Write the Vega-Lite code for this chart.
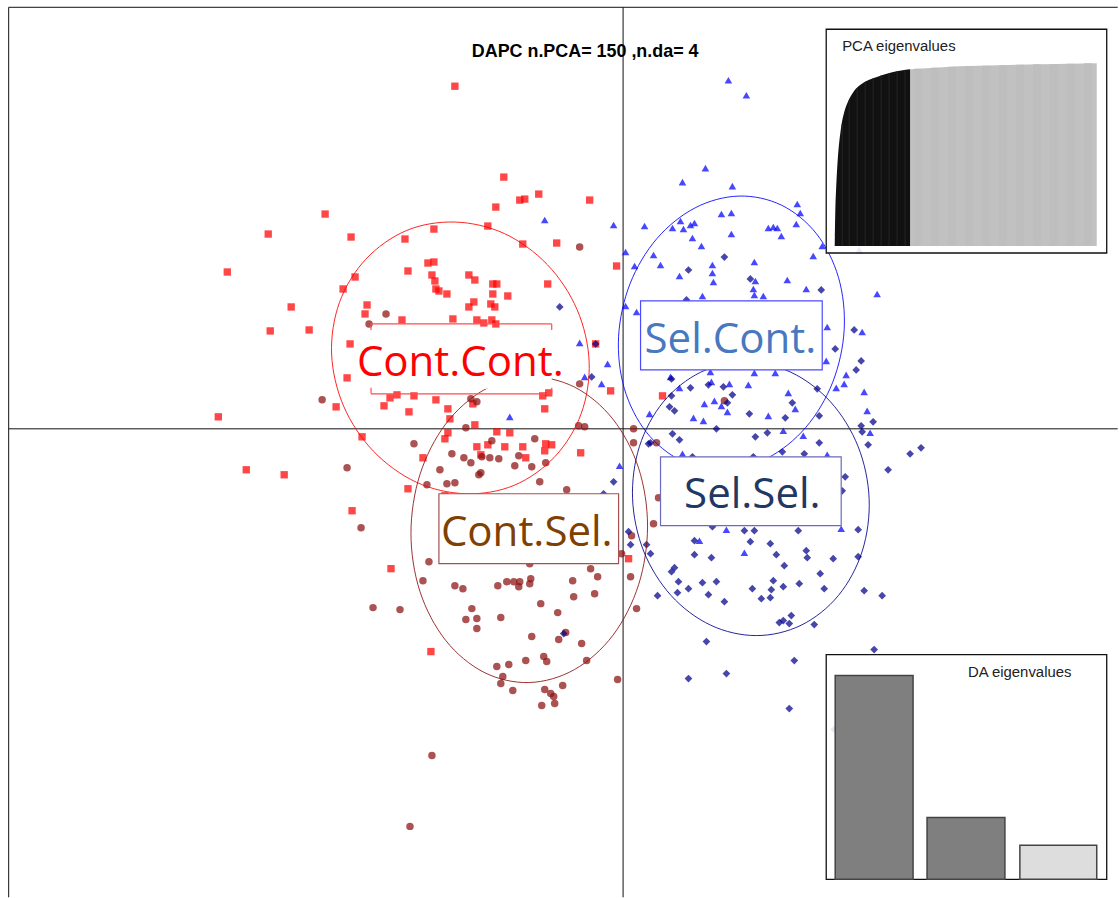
{"$schema":"https://vega.github.io/schema/vega-lite/v6.json","autosize":{"type":"fit","contains":"padding"},"width":1119,"height":898,"padding":0,"background":"white","view":{"stroke":null},
"datasets":{
"pts":[
{"g":"CC","x":455,"y":86},{"g":"CC","x":504,"y":177},{"g":"CC","x":520,"y":200},{"g":"CC","x":525,"y":199},{"g":"CC","x":539,"y":194},{"g":"CC","x":590,"y":200},{"g":"CC","x":496,"y":207},{"g":"CC","x":325,"y":214},{"g":"CC","x":268,"y":234},{"g":"CC","x":351,"y":237},{"g":"CC","x":434,"y":229},{"g":"CC","x":405,"y":239},{"g":"CC","x":488,"y":226},{"g":"CC","x":523,"y":244},{"g":"CC","x":557,"y":243},{"g":"CC","x":617,"y":266},{"g":"CC","x":227,"y":272},{"g":"CC","x":408,"y":271},{"g":"CC","x":428,"y":263},{"g":"CC","x":434,"y":262},{"g":"CC","x":432,"y":275},{"g":"CC","x":435,"y":281},{"g":"CC","x":436,"y":289},{"g":"CC","x":439,"y":291},{"g":"CC","x":447,"y":294},{"g":"CC","x":469,"y":275},{"g":"CC","x":475,"y":280},{"g":"CC","x":493,"y":284},{"g":"CC","x":497,"y":284},{"g":"CC","x":493,"y":294},{"g":"CC","x":508,"y":296},{"g":"CC","x":548,"y":284},{"g":"CC","x":355,"y":277},{"g":"CC","x":343,"y":289},{"g":"CC","x":367,"y":305},{"g":"CC","x":365,"y":314},{"g":"CC","x":291,"y":307},{"g":"CC","x":270,"y":331},{"g":"CC","x":309,"y":330},{"g":"CC","x":474,"y":302},{"g":"CC","x":469,"y":307},{"g":"CC","x":491,"y":304},{"g":"CC","x":495,"y":307},{"g":"CC","x":402,"y":320},{"g":"CC","x":453,"y":319},{"g":"CC","x":477,"y":320},{"g":"CC","x":492,"y":320},{"g":"CC","x":484,"y":323},{"g":"CC","x":496,"y":324},{"g":"CC","x":350,"y":344},{"g":"CC","x":347,"y":378},{"g":"CC","x":596,"y":344},{"g":"CC","x":611,"y":391},{"g":"CC","x":390,"y":398},{"g":"CC","x":397,"y":395},{"g":"CC","x":414,"y":396},{"g":"CC","x":436,"y":400},{"g":"CC","x":543,"y":396},{"g":"CC","x":549,"y":393},{"g":"CC","x":384,"y":406},{"g":"CC","x":336,"y":407},{"g":"CC","x":409,"y":412},{"g":"CC","x":448,"y":409},{"g":"CC","x":473,"y":404},{"g":"CC","x":545,"y":409},{"g":"CC","x":450,"y":419},{"g":"CC","x":475,"y":425},{"g":"CC","x":218,"y":417},{"g":"CC","x":362,"y":437},{"g":"CC","x":246,"y":470},{"g":"CC","x":284,"y":475},{"g":"CC","x":448,"y":433},{"g":"CC","x":445,"y":439},{"g":"CC","x":497,"y":432},{"g":"CC","x":510,"y":433},{"g":"CC","x":477,"y":447},{"g":"CC","x":488,"y":445},{"g":"CC","x":505,"y":447},{"g":"CC","x":523,"y":447},{"g":"CC","x":481,"y":455},{"g":"CC","x":526,"y":458},{"g":"CC","x":546,"y":444},{"g":"CC","x":552,"y":445},{"g":"CC","x":545,"y":451},{"g":"CC","x":423,"y":458},{"g":"CC","x":581,"y":453},{"g":"CC","x":408,"y":489},{"g":"CC","x":445,"y":496},{"g":"CC","x":352,"y":511},{"g":"CC","x":391,"y":569},{"g":"CC","x":431,"y":652},{"g":"CC","x":629,"y":559},{"g":"CC","x":663,"y":396},
{"g":"CS","x":580,"y":247},{"g":"CS","x":386,"y":314},{"g":"CS","x":369,"y":324},{"g":"CS","x":322,"y":400},{"g":"CS","x":580,"y":384},{"g":"CS","x":471,"y":399},{"g":"CS","x":477,"y":402},{"g":"CS","x":466,"y":428},{"g":"CS","x":579,"y":426},{"g":"CS","x":585,"y":427},{"g":"CS","x":414,"y":444},{"g":"CS","x":347,"y":468},{"g":"CS","x":452,"y":454},{"g":"CS","x":464,"y":458},{"g":"CS","x":471,"y":463},{"g":"CS","x":482,"y":457},{"g":"CS","x":490,"y":458},{"g":"CS","x":499,"y":459},{"g":"CS","x":492,"y":441},{"g":"CS","x":519,"y":456},{"g":"CS","x":515,"y":466},{"g":"CS","x":532,"y":467},{"g":"CS","x":546,"y":463},{"g":"CS","x":535,"y":439},{"g":"CS","x":440,"y":470},{"g":"CS","x":479,"y":475},{"g":"CS","x":481,"y":473},{"g":"CS","x":427,"y":485},{"g":"CS","x":447,"y":484},{"g":"CS","x":455,"y":483},{"g":"CS","x":540,"y":482},{"g":"CS","x":567,"y":490},{"g":"CS","x":634,"y":429},{"g":"CS","x":634,"y":443},{"g":"CS","x":657,"y":443},{"g":"CS","x":659,"y":498},{"g":"CS","x":654,"y":524},{"g":"CS","x":725,"y":401},{"g":"CS","x":361,"y":528},{"g":"CS","x":632,"y":536},{"g":"CS","x":622,"y":554},{"g":"CS","x":429,"y":562},{"g":"CS","x":530,"y":564},{"g":"CS","x":591,"y":569},{"g":"CS","x":598,"y":577},{"g":"CS","x":631,"y":577},{"g":"CS","x":423,"y":581},{"g":"CS","x":455,"y":586},{"g":"CS","x":463,"y":589},{"g":"CS","x":498,"y":586},{"g":"CS","x":507,"y":582},{"g":"CS","x":514,"y":582},{"g":"CS","x":520,"y":582},{"g":"CS","x":519,"y":587},{"g":"CS","x":530,"y":584},{"g":"CS","x":531,"y":579},{"g":"CS","x":573,"y":581},{"g":"CS","x":574,"y":597},{"g":"CS","x":595,"y":594},{"g":"CS","x":541,"y":604},{"g":"CS","x":558,"y":613},{"g":"CS","x":637,"y":609},{"g":"CS","x":373,"y":608},{"g":"CS","x":400,"y":610},{"g":"CS","x":472,"y":609},{"g":"CS","x":466,"y":620},{"g":"CS","x":477,"y":619},{"g":"CS","x":477,"y":629},{"g":"CS","x":501,"y":618},{"g":"CS","x":532,"y":637},{"g":"CS","x":559,"y":640},{"g":"CS","x":566,"y":633},{"g":"CS","x":582,"y":644},{"g":"CS","x":544,"y":657},{"g":"CS","x":547,"y":662},{"g":"CS","x":526,"y":661},{"g":"CS","x":509,"y":665},{"g":"CS","x":497,"y":667},{"g":"CS","x":503,"y":677},{"g":"CS","x":501,"y":684},{"g":"CS","x":587,"y":661},{"g":"CS","x":618,"y":680},{"g":"CS","x":563,"y":686},{"g":"CS","x":545,"y":690},{"g":"CS","x":513,"y":691},{"g":"CS","x":551,"y":694},{"g":"CS","x":554,"y":697},{"g":"CS","x":555,"y":704},{"g":"CS","x":542,"y":706},{"g":"CS","x":432,"y":756},{"g":"CS","x":410,"y":827},
{"g":"SC","x":729,"y":80},{"g":"SC","x":747,"y":95},{"g":"SC","x":706,"y":168},{"g":"SC","x":683,"y":182},{"g":"SC","x":733,"y":186},{"g":"SC","x":798,"y":204},{"g":"SC","x":801,"y":213},{"g":"SC","x":797,"y":224},{"g":"SC","x":722,"y":214},{"g":"SC","x":732,"y":213},{"g":"SC","x":681,"y":221},{"g":"SC","x":695,"y":223},{"g":"SC","x":691,"y":225},{"g":"SC","x":645,"y":226},{"g":"SC","x":673,"y":228},{"g":"SC","x":684,"y":229},{"g":"SC","x":732,"y":234},{"g":"SC","x":769,"y":228},{"g":"SC","x":774,"y":227},{"g":"SC","x":778,"y":228},{"g":"SC","x":782,"y":236},{"g":"SC","x":693,"y":238},{"g":"SC","x":702,"y":246},{"g":"SC","x":823,"y":246},{"g":"SC","x":626,"y":252},{"g":"SC","x":654,"y":255},{"g":"SC","x":814,"y":256},{"g":"SC","x":635,"y":266},{"g":"SC","x":661,"y":265},{"g":"SC","x":713,"y":265},{"g":"SC","x":713,"y":273},{"g":"SC","x":755,"y":262},{"g":"SC","x":680,"y":276},{"g":"SC","x":714,"y":282},{"g":"SC","x":756,"y":281},{"g":"SC","x":788,"y":280},{"g":"SC","x":807,"y":289},{"g":"SC","x":754,"y":289},{"g":"SC","x":755,"y":295},{"g":"SC","x":703,"y":296},{"g":"SC","x":764,"y":296},{"g":"SC","x":878,"y":294},{"g":"SC","x":626,"y":306},{"g":"SC","x":637,"y":312},{"g":"SC","x":828,"y":327},{"g":"SC","x":863,"y":332},{"g":"SC","x":827,"y":361},{"g":"SC","x":671,"y":377},{"g":"SC","x":711,"y":372},{"g":"SC","x":755,"y":373},{"g":"SC","x":776,"y":373},{"g":"SC","x":847,"y":375},{"g":"SC","x":845,"y":384},{"g":"SC","x":837,"y":388},{"g":"SC","x":865,"y":392},{"g":"SC","x":712,"y":382},{"g":"SC","x":730,"y":384},{"g":"SC","x":749,"y":385},{"g":"SC","x":680,"y":388},{"g":"SC","x":789,"y":393},{"g":"SC","x":715,"y":401},{"g":"SC","x":705,"y":404},{"g":"SC","x":722,"y":406},{"g":"SC","x":796,"y":409},{"g":"SC","x":868,"y":411},{"g":"SC","x":728,"y":412},{"g":"SC","x":650,"y":414},{"g":"SC","x":694,"y":418},{"g":"SC","x":704,"y":421},{"g":"SC","x":769,"y":416},{"g":"SC","x":545,"y":220},{"g":"SC","x":614,"y":225},{"g":"SC","x":580,"y":343},{"g":"SC","x":608,"y":364},{"g":"SC","x":585,"y":377},{"g":"SC","x":602,"y":384},{"g":"SC","x":510,"y":417},{"g":"SC","x":620,"y":466},{"g":"SC","x":784,"y":431},{"g":"SC","x":804,"y":436},{"g":"SC","x":871,"y":433},{"g":"SC","x":683,"y":454},{"g":"SC","x":828,"y":455},{"g":"SC","x":727,"y":530},{"g":"SC","x":842,"y":529},{"g":"SC","x":700,"y":541},{"g":"SC","x":745,"y":553},{"g":"SC","x":894,"y":188},{"g":"SC","x":838,"y":232},{"g":"SC","x":877,"y":232},{"g":"SC","x":860,"y":250},
{"g":"SS","x":725,"y":257},{"g":"SS","x":689,"y":270},{"g":"SS","x":751,"y":279},{"g":"SS","x":822,"y":290},{"g":"SS","x":687,"y":300},{"g":"SS","x":855,"y":330},{"g":"SS","x":836,"y":349},{"g":"SS","x":862,"y":361},{"g":"SS","x":857,"y":370},{"g":"SS","x":672,"y":379},{"g":"SS","x":691,"y":388},{"g":"SS","x":709,"y":385},{"g":"SS","x":724,"y":387},{"g":"SS","x":733,"y":395},{"g":"SS","x":672,"y":396},{"g":"SS","x":818,"y":389},{"g":"SS","x":793,"y":403},{"g":"SS","x":670,"y":407},{"g":"SS","x":675,"y":411},{"g":"SS","x":728,"y":403},{"g":"SS","x":750,"y":414},{"g":"SS","x":786,"y":418},{"g":"SS","x":820,"y":416},{"g":"SS","x":874,"y":422},{"g":"SS","x":862,"y":426},{"g":"SS","x":560,"y":307},{"g":"SS","x":596,"y":344},{"g":"SS","x":592,"y":377},{"g":"SS","x":614,"y":482},{"g":"SS","x":604,"y":494},{"g":"SS","x":649,"y":444},{"g":"SS","x":564,"y":634},{"g":"SS","x":717,"y":429},{"g":"SS","x":673,"y":434},{"g":"SS","x":680,"y":440},{"g":"SS","x":651,"y":443},{"g":"SS","x":756,"y":437},{"g":"SS","x":768,"y":433},{"g":"SS","x":820,"y":443},{"g":"SS","x":863,"y":432},{"g":"SS","x":869,"y":445},{"g":"SS","x":922,"y":448},{"g":"SS","x":911,"y":454},{"g":"SS","x":889,"y":470},{"g":"SS","x":783,"y":452},{"g":"SS","x":805,"y":454},{"g":"SS","x":693,"y":457},{"g":"SS","x":754,"y":457},{"g":"SS","x":846,"y":477},{"g":"SS","x":843,"y":491},{"g":"SS","x":713,"y":527},{"g":"SS","x":745,"y":531},{"g":"SS","x":755,"y":531},{"g":"SS","x":799,"y":531},{"g":"SS","x":859,"y":530},{"g":"SS","x":695,"y":541},{"g":"SS","x":751,"y":542},{"g":"SS","x":771,"y":544},{"g":"SS","x":647,"y":545},{"g":"SS","x":629,"y":532},{"g":"SS","x":631,"y":545},{"g":"SS","x":807,"y":551},{"g":"SS","x":777,"y":555},{"g":"SS","x":651,"y":554},{"g":"SS","x":695,"y":555},{"g":"SS","x":712,"y":558},{"g":"SS","x":808,"y":558},{"g":"SS","x":834,"y":559},{"g":"SS","x":859,"y":557},{"g":"SS","x":785,"y":566},{"g":"SS","x":675,"y":568},{"g":"SS","x":672,"y":572},{"g":"SS","x":821,"y":574},{"g":"SS","x":679,"y":582},{"g":"SS","x":703,"y":583},{"g":"SS","x":717,"y":582},{"g":"SS","x":774,"y":581},{"g":"SS","x":800,"y":584},{"g":"SS","x":784,"y":587},{"g":"SS","x":753,"y":589},{"g":"SS","x":772,"y":590},{"g":"SS","x":825,"y":589},{"g":"SS","x":865,"y":591},{"g":"SS","x":689,"y":589},{"g":"SS","x":678,"y":593},{"g":"SS","x":709,"y":595},{"g":"SS","x":658,"y":596},{"g":"SS","x":883,"y":596},{"g":"SS","x":762,"y":599},{"g":"SS","x":771,"y":598},{"g":"SS","x":725,"y":602},{"g":"SS","x":792,"y":616},{"g":"SS","x":780,"y":623},{"g":"SS","x":784,"y":621},{"g":"SS","x":790,"y":624},{"g":"SS","x":815,"y":625},{"g":"SS","x":707,"y":642},{"g":"SS","x":875,"y":650},{"g":"SS","x":795,"y":661},{"g":"SS","x":727,"y":674},{"g":"SS","x":689,"y":679},{"g":"SS","x":790,"y":709},{"g":"SS","x":835,"y":730}],
"ell":[
{"g":"CC","i":1,"x":589.5,"y":361.9},{"g":"CC","i":2,"x":581.6,"y":413.6},{"g":"CC","i":3,"x":555.3,"y":456.7},{"g":"CC","i":4,"x":514.5,"y":485.5},{"g":"CC","i":5,"x":466,"y":494},{"g":"CC","i":6,"x":416.5,"y":482.5},{"g":"CC","i":7,"x":373.3,"y":451.3},{"g":"CC","i":8,"x":343.6,"y":406.4},{"g":"CC","i":9,"x":331.5,"y":354.1},{"g":"CC","i":10,"x":339.4,"y":302.4},{"g":"CC","i":11,"x":365.7,"y":259.3},{"g":"CC","i":12,"x":406.5,"y":230.5},{"g":"CC","i":13,"x":455,"y":222},{"g":"CC","i":14,"x":504.5,"y":233.5},{"g":"CC","i":15,"x":547.7,"y":264.7},{"g":"CC","i":16,"x":577.4,"y":309.6},
{"g":"CS","i":1,"x":648,"y":526.4},{"g":"CS","i":2,"x":639,"y":585.2},{"g":"CS","i":3,"x":613.3,"y":635.7},{"g":"CS","i":4,"x":574.8,"y":670},{"g":"CS","i":5,"x":529.5,"y":683},{"g":"CS","i":6,"x":484.2,"y":672.8},{"g":"CS","i":7,"x":445.7,"y":640.7},{"g":"CS","i":8,"x":420,"y":591.8},{"g":"CS","i":9,"x":411,"y":533.6},{"g":"CS","i":10,"x":420,"y":474.8},{"g":"CS","i":11,"x":445.7,"y":424.3},{"g":"CS","i":12,"x":484.2,"y":390},{"g":"CS","i":13,"x":529.5,"y":377},{"g":"CS","i":14,"x":574.8,"y":387.2},{"g":"CS","i":15,"x":613.3,"y":419.3},{"g":"CS","i":16,"x":639,"y":468.2},
{"g":"SC","i":1,"x":845,"y":329.6},{"g":"SC","i":2,"x":833.5,"y":382.3},{"g":"SC","i":3,"x":806.6,"y":427.5},{"g":"SC","i":4,"x":768.2,"y":458.3},{"g":"SC","i":5,"x":724.5,"y":470},{"g":"SC","i":6,"x":681.8,"y":460.9},{"g":"SC","i":7,"x":646.8,"y":432.3},{"g":"SC","i":8,"x":624.7,"y":388.5},{"g":"SC","i":9,"x":619,"y":336.4},{"g":"SC","i":10,"x":630.5,"y":283.7},{"g":"SC","i":11,"x":657.4,"y":238.5},{"g":"SC","i":12,"x":695.8,"y":207.7},{"g":"SC","i":13,"x":739.5,"y":196},{"g":"SC","i":14,"x":782.2,"y":205.1},{"g":"SC","i":15,"x":817.2,"y":233.7},{"g":"SC","i":16,"x":839.3,"y":277.5},
{"g":"SS","i":1,"x":870,"y":499},{"g":"SS","i":2,"x":863.1,"y":551.4},{"g":"SS","i":3,"x":839.2,"y":595.9},{"g":"SS","i":4,"x":801.9,"y":625.6},{"g":"SS","i":5,"x":757,"y":636},{"g":"SS","i":6,"x":711.3,"y":625.6},{"g":"SS","i":7,"x":671.6,"y":595.9},{"g":"SS","i":8,"x":644.1,"y":551.4},{"g":"SS","i":9,"x":633,"y":499},{"g":"SS","i":10,"x":639.9,"y":446.6},{"g":"SS","i":11,"x":663.8,"y":402.1},{"g":"SS","i":12,"x":701.1,"y":372.4},{"g":"SS","i":13,"x":746,"y":362},{"g":"SS","i":14,"x":791.7,"y":372.4},{"g":"SS","i":15,"x":831.4,"y":402.1},{"g":"SS","i":16,"x":858.9,"y":446.6}]
},
"encoding":{},
"layer":[
{"data":{"values":[{"x":8,"x2":1119,"y":7,"y2":7},{"x":8,"x2":8,"y":7,"y2":898},{"x":623.5,"x2":623.5,"y":7,"y2":898},{"x":8,"x2":1119,"y":429,"y2":429}]},"mark":{"type":"rule","color":"#111","strokeWidth":1},"encoding":{"x":{"field":"x","type":"quantitative","scale":{"domain":[-0.7,1118.3],"nice":false,"zero":false},"axis":null},"x2":{"field":"x2"},"y":{"field":"y","type":"quantitative","scale":{"domain":[897.7,-0.3],"nice":false,"zero":false},"axis":null},"y2":{"field":"y2"}}},
{"data":{"name":"pts"},"mark":{"type":"point","filled":true,"opacity":0.72,"stroke":null},"encoding":{"x":{"field":"x","type":"quantitative"},"y":{"field":"y","type":"quantitative"},"color":{"field":"g","type":"nominal","legend":null,"scale":{"domain":["CC","CS","SC","SS"],"range":["#ff0000","#8b1010","#0000ff","#00008b"]}},"shape":{"field":"g","type":"nominal","legend":null,"scale":{"domain":["CC","CS","SC","SS"],"range":["square","circle","triangle-up","diamond"]}},"size":{"field":"g","type":"nominal","legend":null,"scale":{"domain":["CC","CS","SC","SS"],"range":[54,60,110,62]}}}},
{"data":{"name":"ell"},"mark":{"type":"line","interpolate":"cardinal-closed","strokeWidth":1,"opacity":0.85},"encoding":{"x":{"field":"x","type":"quantitative"},"y":{"field":"y","type":"quantitative"},"color":{"field":"g","type":"nominal","legend":null},"order":{"field":"i","type":"quantitative"}}},
{"data":{"values":[{"x":371,"x2":552,"y":329,"y2":389}]},"mark":{"type":"rect","fill":"white"},"encoding":{"x":{"field":"x","type":"quantitative"},"x2":{"field":"x2"},"y":{"field":"y","type":"quantitative"},"y2":{"field":"y2"}}},
{"data":{"values":[{"x":371,"x2":552,"y":324,"y2":324},{"x":371,"x2":552,"y":394,"y2":394},{"x":371,"x2":371,"y":324,"y2":330},{"x":552,"x2":552,"y":324,"y2":330},{"x":371,"x2":371,"y":388,"y2":394},{"x":552,"x2":552,"y":388,"y2":394}]},"mark":{"type":"rule","color":"#ff4d4d","strokeWidth":1.2},"encoding":{"x":{"field":"x","type":"quantitative"},"x2":{"field":"x2"},"y":{"field":"y","type":"quantitative"},"y2":{"field":"y2"}}},
{"data":{"values":[{"x":641,"x2":823,"y":301,"y2":370}]},"mark":{"type":"rect","fill":"white","stroke":"#4a4aff","strokeWidth":1.2},"encoding":{"x":{"field":"x","type":"quantitative"},"x2":{"field":"x2"},"y":{"field":"y","type":"quantitative"},"y2":{"field":"y2"}}},
{"data":{"values":[{"x":661,"x2":842,"y":457,"y2":526}]},"mark":{"type":"rect","fill":"white","stroke":"#6a6ac0","strokeWidth":1.2},"encoding":{"x":{"field":"x","type":"quantitative"},"x2":{"field":"x2"},"y":{"field":"y","type":"quantitative"},"y2":{"field":"y2"}}},
{"data":{"values":[{"x":439,"x2":619,"y":494,"y2":564}]},"mark":{"type":"rect","fill":"white","stroke":"#a85050","strokeWidth":1.2},"encoding":{"x":{"field":"x","type":"quantitative"},"x2":{"field":"x2"},"y":{"field":"y","type":"quantitative"},"y2":{"field":"y2"}}},
{"data":{"values":[{"t":"Cont.Cont.","x":460.5,"y":376}]},"mark":{"type":"text","font":"Open Sans","fontSize":42,"align":"center","baseline":"alphabetic","color":"#ff0000"},"encoding":{"x":{"field":"x","type":"quantitative"},"y":{"field":"y","type":"quantitative"},"text":{"field":"t"}}},
{"data":{"values":[{"t":"Sel.Cont.","x":731,"y":353}]},"mark":{"type":"text","font":"Open Sans","fontSize":42,"align":"center","baseline":"alphabetic","color":"#4878c0"},"encoding":{"x":{"field":"x","type":"quantitative"},"y":{"field":"y","type":"quantitative"},"text":{"field":"t"}}},
{"data":{"values":[{"t":"Sel.Sel.","x":753,"y":508}]},"mark":{"type":"text","font":"Open Sans","fontSize":42,"align":"center","baseline":"alphabetic","color":"#1f3864"},"encoding":{"x":{"field":"x","type":"quantitative"},"y":{"field":"y","type":"quantitative"},"text":{"field":"t"}}},
{"data":{"values":[{"t":"Cont.Sel.","x":527,"y":546}]},"mark":{"type":"text","font":"Open Sans","fontSize":42,"align":"center","baseline":"alphabetic","color":"#7f4000"},"encoding":{"x":{"field":"x","type":"quantitative"},"y":{"field":"y","type":"quantitative"},"text":{"field":"t"}}},
{"data":{"values":[{"t":"DAPC n.PCA= 150 ,n.da= 4","x":585.5,"y":57}]},"mark":{"type":"text","font":"Liberation Sans","fontWeight":"bold","fontSize":17.9,"align":"center","baseline":"alphabetic","color":"#000"},"encoding":{"x":{"field":"x","type":"quantitative"},"y":{"field":"y","type":"quantitative"},"text":{"field":"t"}}},
{"data":{"values":[{"x":827,"x2":1108,"y":29,"y2":253},{"x":827,"x2":1108,"y":655,"y2":880}]},"mark":{"type":"rect","fill":"white","fillOpacity":0.88,"stroke":"#111","strokeWidth":1.3},"encoding":{"x":{"field":"x","type":"quantitative"},"x2":{"field":"x2"},"y":{"field":"y","type":"quantitative"},"y2":{"field":"y2"}}},
{"data":{"values":[{"x":911,"y":69,"b":246},{"x":960,"y":66,"b":246},{"x":1000,"y":65,"b":246},{"x":1043,"y":64,"b":246},{"x":1098,"y":63,"b":246}]},"mark":{"type":"area","color":"#c1c1c1","opacity":1},"encoding":{"x":{"field":"x","type":"quantitative"},"y":{"field":"y","type":"quantitative"},"y2":{"field":"b"}}},
{"data":{"values":[{"x":919,"y":68.5,"b":246},{"x":936,"y":67.5,"b":246},{"x":953,"y":66.5,"b":246},{"x":970,"y":66,"b":246},{"x":987,"y":65.5,"b":246},{"x":1004,"y":65,"b":246},{"x":1021,"y":64.5,"b":246},{"x":1038,"y":64,"b":246},{"x":1055,"y":64,"b":246},{"x":1072,"y":63.5,"b":246},{"x":1089,"y":63,"b":246}]},"mark":{"type":"rule","color":"#bebebe","strokeWidth":8},"encoding":{"x":{"field":"x","type":"quantitative"},"y":{"field":"y","type":"quantitative"},"y2":{"field":"b"}}},
{"data":{"values":[{"x":835.5,"y":246,"b":246},{"x":836,"y":215,"b":246},{"x":837,"y":187,"b":246},{"x":838.5,"y":160,"b":246},{"x":841.5,"y":130,"b":246},{"x":845,"y":112,"b":246},{"x":849,"y":101,"b":246},{"x":854,"y":92,"b":246},{"x":862,"y":84,"b":246},{"x":877,"y":77,"b":246},{"x":893,"y":72,"b":246},{"x":911,"y":69,"b":246}]},"mark":{"type":"area","color":"#111111","opacity":1,"interpolate":"monotone"},"encoding":{"x":{"field":"x","type":"quantitative"},"y":{"field":"y","type":"quantitative"},"y2":{"field":"b"}}},
{"data":{"values":[{"x":843,"y":124,"b":246},{"x":850,"y":100,"b":246},{"x":858,"y":88,"b":246},{"x":866,"y":82,"b":246},{"x":874,"y":78,"b":246},{"x":882,"y":75,"b":246},{"x":890,"y":73,"b":246},{"x":898,"y":71,"b":246},{"x":906,"y":70,"b":246}]},"mark":{"type":"rule","color":"#262626","strokeWidth":1},"encoding":{"x":{"field":"x","type":"quantitative"},"y":{"field":"y","type":"quantitative"},"y2":{"field":"b"}}},
{"data":{"values":[{"x":836,"x2":914,"y":676,"y2":880,"c":"a"},{"x":928,"x2":1006,"y":818,"y2":880,"c":"a"},{"x":1021,"x2":1098,"y":846,"y2":880,"c":"b"}]},"mark":{"type":"rect","stroke":"#444444","strokeWidth":1.5},"encoding":{"x":{"field":"x","type":"quantitative"},"x2":{"field":"x2"},"y":{"field":"y","type":"quantitative"},"y2":{"field":"y2"},"fill":{"field":"c","type":"nominal","legend":null,"scale":{"domain":["a","b"],"range":["#7f7f7f","#dddddd"]}}}},
{"data":{"values":[{"t":"PCA eigenvalues","x":843,"y":51},{"t":"DA eigenvalues","x":969,"y":677}]},"mark":{"type":"text","font":"Liberation Sans","fontSize":14.9,"align":"left","baseline":"alphabetic","color":"#222"},"encoding":{"x":{"field":"x","type":"quantitative"},"y":{"field":"y","type":"quantitative"},"text":{"field":"t"}}}
],
"resolve":{"scale":{"color":"shared"}}}
